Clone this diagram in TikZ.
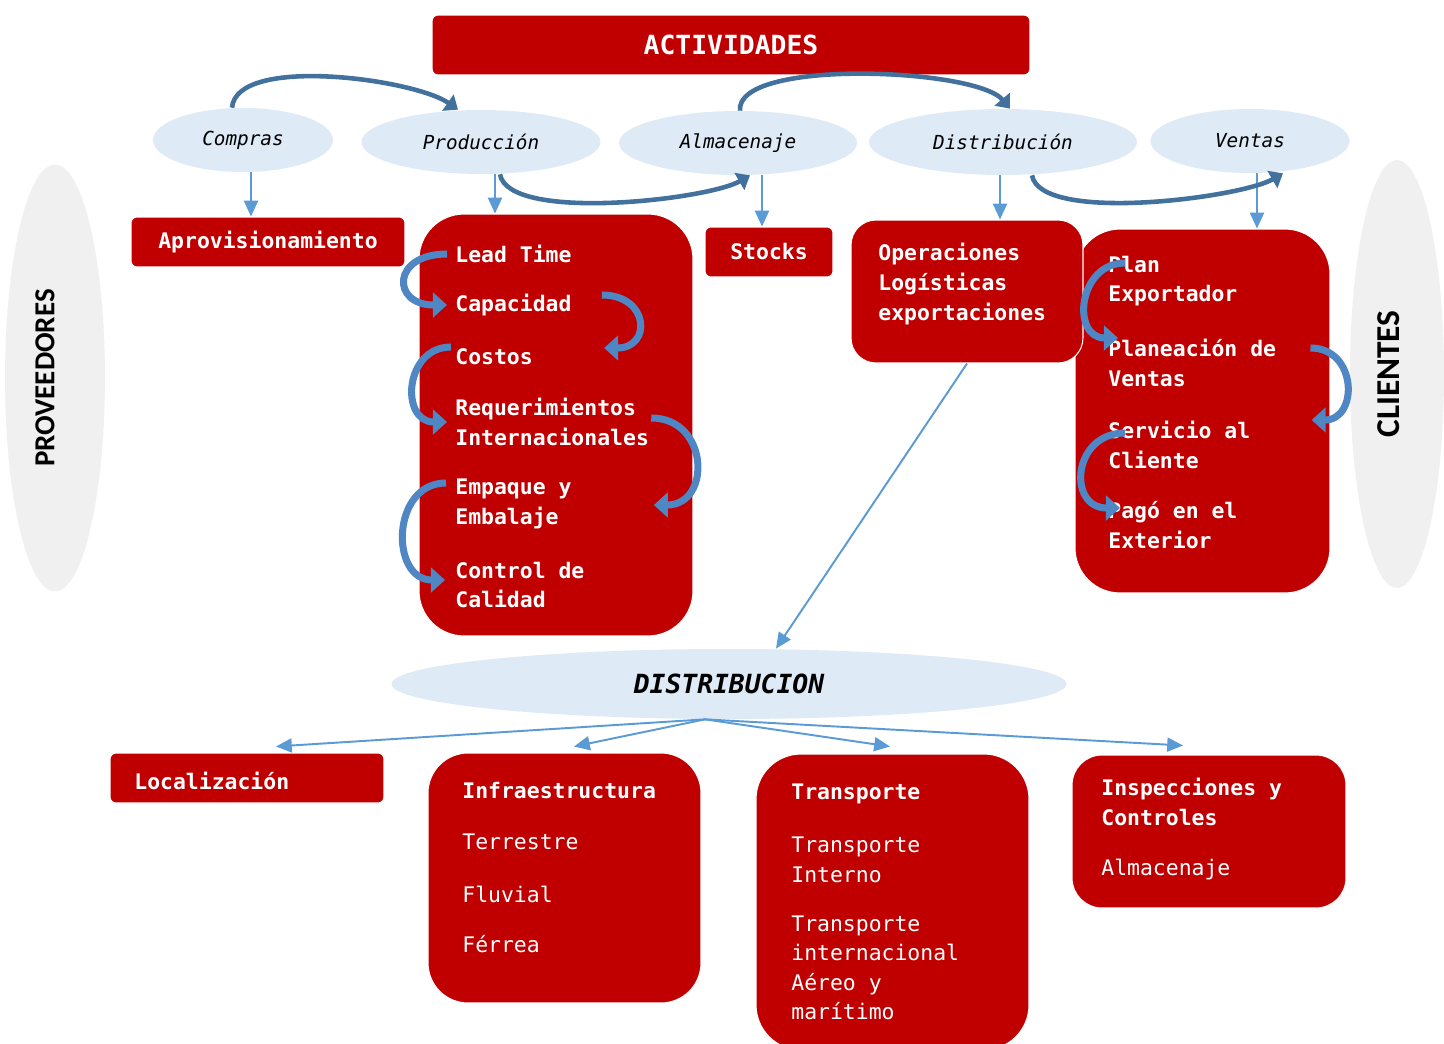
\documentclass[tikz,border=0pt]{standalone}
\usepackage{fontspec}
\setmonofont{DejaVu Sans Mono}
\newfontfamily\sidefont{Carlito}
\usepackage{xcolor}
\usetikzlibrary{positioning, arrows.meta, shapes.geometric}

\definecolor{boxred}{RGB}{192,0,0}
\definecolor{ellblue}{RGB}{222,234,246}
\definecolor{sidegray}{RGB}{240,240,240}
\definecolor{linkblue}{RGB}{91,155,213}
\definecolor{arcblue}{RGB}{65,113,156}
\definecolor{curlblue}{RGB}{79,135,196}
\newcommand{\boxfont}{\fontsize{12.2}{16.8}\selectfont\ttfamily}

\tikzset{
    redbox/.style={fill=boxred, draw=white, line width=0.6pt, rounded corners=#1, inner sep=0pt, text=white, font=\boxfont\bfseries}, % red panels
    redbox/.default=0.12cm,
    activity/.style={ellipse, fill=ellblue, inner sep=0pt, font=\fontsize{11}{13}\selectfont\ttfamily\itshape}, % blue bubbles
    sidebar/.style={ellipse, fill=sidegray, inner sep=0pt}, % grey side ovals
    sidetext/.style={rotate=90, font=\sidefont\bfseries},
    entry/.style={anchor=west, inner sep=0.16cm, align=left, text=white, font=\boxfont\bfseries}, % text inside panels
    plainentry/.style={entry, font=\boxfont},
    link/.style={color=linkblue, line width=1.1pt, -{Triangle[length=9pt, width=8pt]}}, % thin straight arrows
    toparc/.style={color=arcblue, line width=2.6pt, -{Triangle[length=7pt, width=11pt]}}, % arcs between activities
    curl/.style={color=curlblue, line width=4pt, -{Triangle[length=8pt, width=14pt]}}, % curled arrows in panels
}

\begin{document}
\begin{tikzpicture}[x=0.02cm, y=-0.02cm]
            \path[use as bounding box, fill=white] (0,0) rectangle (1444,1044);

            % side ovals
            \node[sidebar, minimum width=2cm, minimum height=8.54cm] (provell) at (55,378) {};
            \node[sidetext, font=\sidefont\bfseries\fontsize{16.5}{20}\selectfont] (prov) at (45,378) {PROVEEDORES};
            \node[sidebar, minimum width=1.88cm, minimum height=8.56cm] (cliell) at (1397,374) {};
            \node[sidetext, font=\sidefont\bfseries\fontsize{19}{22}\selectfont] (clientes) at (1389,374) {CLIENTES};

            % title and activities
            \node[redbox, minimum width=11.96cm, minimum height=1.2cm, font=\fontsize{15}{18}\selectfont\ttfamily\bfseries] (actividades) at (731,45) {ACTIVIDADES};
            \node[activity, minimum width=3.6cm, minimum height=1.28cm] (compras) at (243,140) {Compras};
            \node[activity, minimum width=4.78cm, minimum height=1.28cm] (produccion) at (481,142) {Producción};
            \node[activity, minimum width=4.76cm, minimum height=1.28cm] (almacenaje) at (738,143) {Almacenaje};
            \node[activity, minimum width=5.36cm, minimum height=1.32cm] (distribucion) at (1003,142) {Distribución};
            \node[activity, minimum width=3.98cm, minimum height=1.28cm] (ventas) at (1250,141) {Ventas};

            % panels under the activities
            \node[redbox, minimum width=5.48cm, minimum height=1cm] (aprovbox) at (268,242) {Aprovisionamiento};
            \node[redbox=0.9cm, minimum width=5.48cm, minimum height=8.44cm] (prodbox) at (556,425) {};
            \node[redbox, minimum width=2.56cm, minimum height=1cm] (stocksbox) at (769,252) {Stocks};
            \node[redbox=0.9cm, minimum width=5.1cm, minimum height=7.28cm] (ventasbox) at (1202.5,411) {};
            \node[redbox=0.5cm, minimum width=4.64cm, minimum height=2.86cm] (opsbox) at (967,291.5) {};

            \node[entry] (lead) at (447,254) {Lead Time};
            \node[entry] (capac) at (447,305) {Capacidad};
            \node[entry] (costos) at (447,357) {Costos};
            \node[entry] (req) at (447,422) {Requerimientos\\Internacionales};
            \node[entry] (empaque) at (447,504) {Empaque y\\Embalaje};
            \node[entry] (control) at (447,585) {Control de\\Calidad};

            \node[entry] (ops) at (870,284) {Operaciones\\Logísticas\\exportaciones};

            \node[entry] (plan) at (1100,281) {Plan\\Exportador};
            \node[entry] (planeacion) at (1100,363) {Planeación de\\Ventas};
            \node[entry] (servicio) at (1100,445) {Servicio al\\Cliente};
            \node[entry] (pago) at (1100,525) {Pagó en el\\Exterior};

            % distribution part
            \node[activity, minimum width=13.5cm, minimum height=1.4cm, font=\fontsize{15}{18}\selectfont\ttfamily\bfseries\itshape] (distrib) at (729,684) {DISTRIBUCION};

            \node[redbox, minimum width=5.48cm, minimum height=1cm] (locbox) at (247,778) {};
            \node[redbox=0.8cm, minimum width=5.46cm, minimum height=5cm] (infrabox) at (564.5,878) {};
            \node[redbox=0.9cm, minimum width=5.46cm, minimum height=5.92cm] (transpbox) at (892.5,902) {};
            \node[redbox=0.6cm, minimum width=5.48cm, minimum height=3.06cm] (inspbox) at (1209,831.5) {};

            \node[entry] (localiz) at (126,781) {Localización};
            \node[entry] (infra) at (454,791) {Infraestructura};
            \node[plainentry] (terre) [below=1.02cm of infra.west, anchor=west] {Terrestre};
            \node[plainentry] (fluvial) [below=1.04cm of terre.west, anchor=west] {Fluvial};
            \node[plainentry] (ferrea) [below=1cm of fluvial.west, anchor=west] {Férrea};
            \node[entry] (transp) at (783,794) {Transporte};
            \node[plainentry] (interno) at (783,860) {Transporte\\Interno};
            \node[plainentry] (internac) at (783,968) {Transporte\\internacional\\Aéreo y\\marítimo};
            \node[entry] (insp) at (1093,802) {Inspecciones y\\Controles};
            \node[plainentry] (almac) at (1093,870) {Almacenaje};

            % straight connectors
            \path[link]
                ([xshift=0.16cm]compras.south) edge ([xshift=0.16cm]compras.south |- aprovbox.north)
                ([xshift=0.28cm]produccion.south) edge ([xshift=0.28cm]produccion.south |- prodbox.north)
                ([xshift=0.48cm]almacenaje.south) edge ([xshift=0.48cm]almacenaje.south |- stocksbox.north)
                ([xshift=-0.06cm]distribucion.south) edge ([xshift=-0.06cm]distribucion.south |- opsbox.north)
                ([xshift=0.14cm]ventas.south) edge ([xshift=0.14cm]ventas.south |- ventasbox.north)
                (opsbox.south) edge ([xshift=0.94cm]distrib.north)
                ([xshift=-0.48cm]distrib.south) edge ([xshift=0.58cm, yshift=0.12cm]locbox.north)
                ([xshift=-0.48cm]distrib.south) edge ([xshift=0.19cm, yshift=0.12cm]infrabox.north)
                ([xshift=-0.48cm]distrib.south) edge ([xshift=-0.05cm, yshift=0.14cm]transpbox.north)
                ([xshift=-0.48cm]distrib.south) edge ([xshift=-0.52cm, yshift=0.18cm]inspbox.north);

            % arcs between activities
            \path[toparc]
                ([xshift=-0.22cm]compras.north) edge[out=85, in=145, looseness=0.6] ([xshift=-0.46cm]produccion.north)
                ([xshift=0.04cm]almacenaje.north) edge[out=95, in=130, looseness=0.5] ([xshift=0.14cm]distribucion.north)
                ([xshift=0.38cm]produccion.south) edge[out=-80, in=-150, looseness=0.5] ([xshift=0.24cm]almacenaje.south)
                ([xshift=0.58cm]distribucion.south) edge[out=-80, in=-150, looseness=0.5] ([xshift=0.66cm]ventas.south);

            % curled arrows inside the panels
            \path[curl]
                (lead.west) edge[out=180, in=180, looseness=2.8] (capac.west)
                ([shift={(22,-10)}]capac.east) edge[out=0, in=0, looseness=2.3] ([shift={(63,-9)}]costos.east)
                ([shift={(4,-10)}]costos.west) edge[out=180, in=180, looseness=1.6] (req.west)
                ([shift={(-6,-4)}]req.east) edge[out=0, in=0, looseness=1.7] ([shift={(74,1)}]empaque.east)
                ([shift={(-1,-21)}]empaque.west) edge[out=180, in=180, looseness=1.45] ([shift={(-2,-5)}]control.west)
                ([shift={(25,-18)}]plan.west) edge[out=180, in=180, looseness=1.6] ([shift={(18,-25)}]planeacion.west)
                ([shift={(26,-15)}]planeacion.east) edge[out=0, in=0, looseness=1.67] ([shift={(53,-25)}]servicio.east)
                ([shift={(25,-12)}]servicio.west) edge[out=180, in=180, looseness=1.8] ([shift={(20,-17)}]pago.west);
\end{tikzpicture}
\end{document}
